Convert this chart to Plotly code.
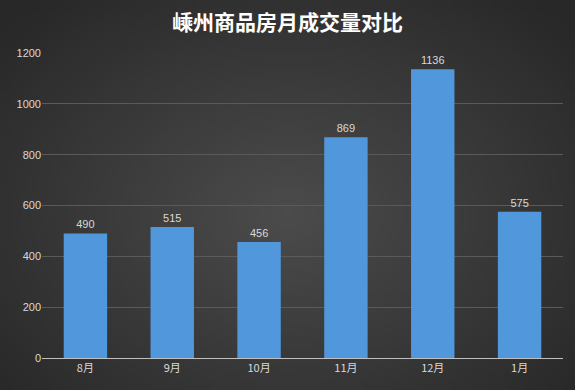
import base64
import struct
import zlib
import plotly.graph_objects as go

categories = ["8月", "9月", "10月", "11月", "12月", "1月"]
values = [490, 515, 456, 869, 1136, 575]
y_ticks = [0, 200, 400, 600, 800, 1000, 1200]
title_text = "嵊州商品房月成交量对比"


def radial_png(w, h, inner, outer):
    rows = []
    for j in range(h):
        row = bytearray([0])
        for i in range(w):
            dx = (i / (w - 1) - 0.5) / 0.5
            dy = (j / (h - 1) - 0.55) / 0.55
            d = min((dx * dx + dy * dy) ** 0.5 / 1.35, 1.0)
            c = [int(inner[k] + (outer[k] - inner[k]) * d) for k in range(3)]
            row += bytes(c)
        rows.append(bytes(row))
    raw = b"".join(rows)

    def chunk(t, data):
        return struct.pack(">I", len(data)) + t + data + struct.pack(">I", zlib.crc32(t + data) & 0xffffffff)

    png = b"\x89PNG\r\n\x1a\n" + chunk(b"IHDR", struct.pack(">IIBBBBB", w, h, 8, 2, 0, 0, 0)) \
        + chunk(b"IDAT", zlib.compress(raw, 9)) + chunk(b"IEND", b"")
    return "data:image/png;base64," + base64.b64encode(png).decode()


bg = radial_png(115, 78, (76, 76, 76), (40, 40, 40))

fig = go.Figure()
fig.add_trace(go.Bar(
    x=categories, y=values,
    marker=dict(color="#5197dc", line=dict(width=0)),
    text=[str(v) for v in values], textposition="outside",
    textfont=dict(color="#d9d9d9", size=11, family="Liberation Sans, Arial"),
    cliponaxis=False,
))

fig.update_layout(
    width=575, height=390,
    margin=dict(l=42, r=12, t=53, b=32, autoexpand=False),
    paper_bgcolor="#3a3a3a", plot_bgcolor="rgba(0,0,0,0)",
    images=[dict(source=bg, xref="paper", yref="paper", x=-42 / 521, y=1 + 53 / 305,
                 sizex=575 / 521, sizey=390 / 305, sizing="stretch", layer="below",
                 xanchor="left", yanchor="top")],
    title=dict(text=title_text, x=0.5, xanchor="center", y=0.943, yanchor="middle",
               font=dict(family="Noto Sans CJK SC", size=21, color="#ffffff", weight="bold")),
    bargap=0.5, showlegend=False,
    xaxis=dict(showgrid=False, showline=True, linecolor="#bfbfbf", linewidth=1, automargin=False,
               tickfont=dict(color="#d9d9d9", size=11, family="Noto Sans CJK SC"), ticks=""),
    yaxis=dict(range=[0, 1200], tickvals=y_ticks, showgrid=True, gridcolor="#5a5a5a", gridwidth=1,
               zeroline=False, showline=False, ticks="", automargin=False,
               tickfont=dict(color="#d9d9d9", size=11, family="Liberation Sans, Arial")),
)

fig.write_html("out.html", config={"displayModeBar": False},
               post_script="document.body.style.margin='0';document.body.style.overflow='hidden';")
